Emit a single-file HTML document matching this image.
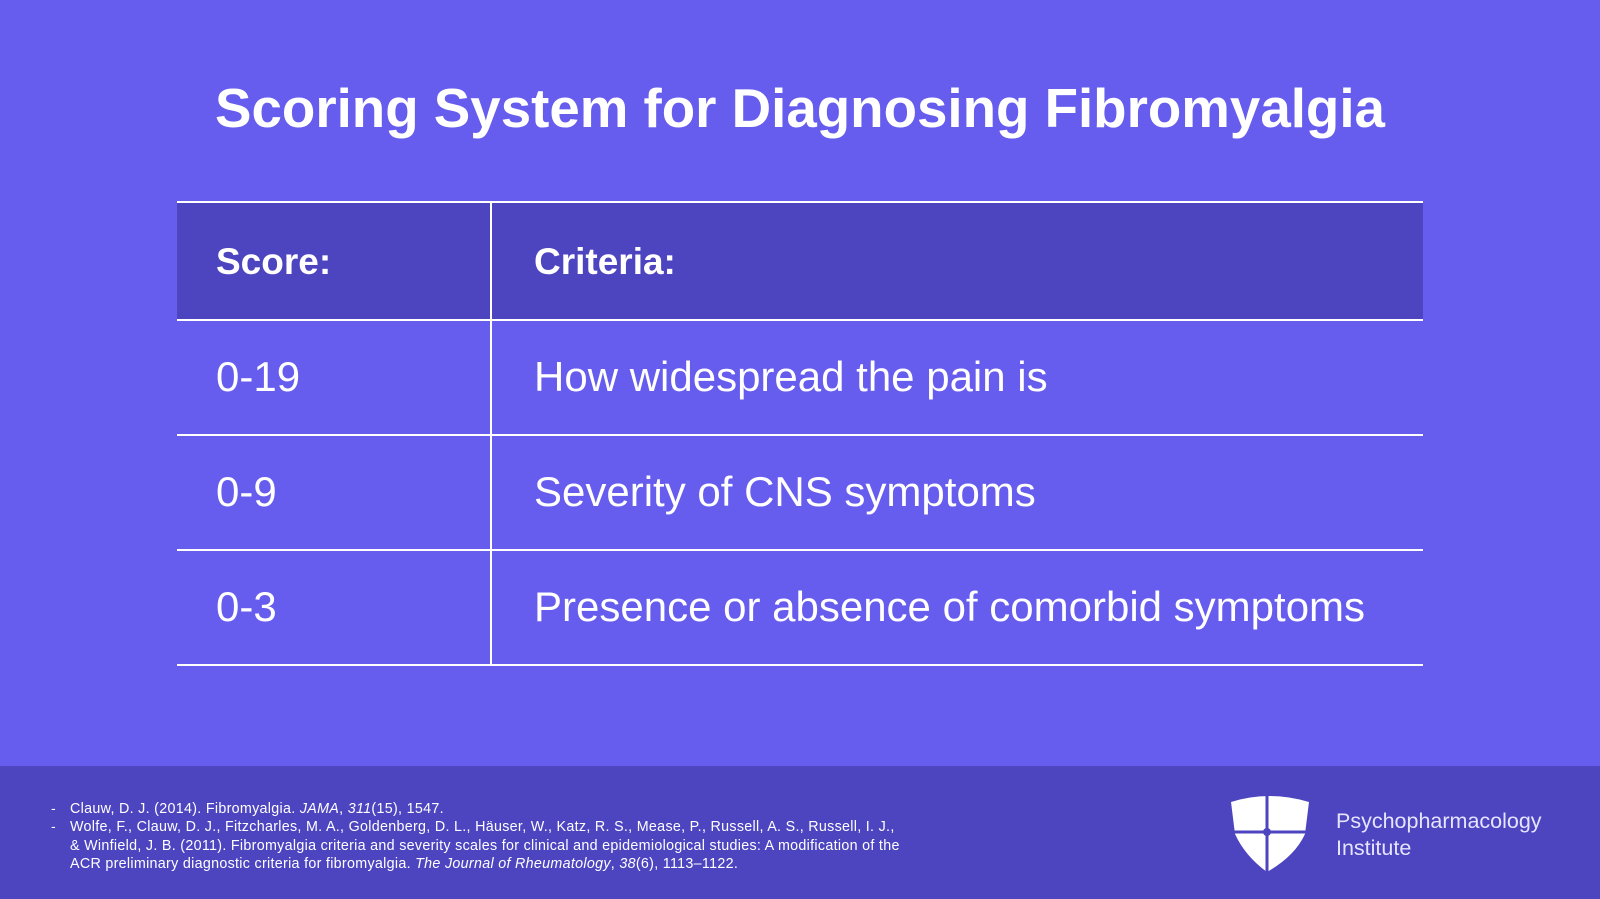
<!DOCTYPE html>
<html><head><style>
body{margin:0;width:1600px;height:899px;background:#665cee;position:relative;overflow:hidden;font-family:"Liberation Sans",sans-serif;color:#fff}
.t{position:absolute;left:0;width:1600px;top:76px;text-align:center;font-size:54.7px;font-weight:bold}
.h{position:absolute;left:177px;top:202px;width:1246px;height:118px;background:#4d44c0}
.l{position:absolute;background:#fff}
.x{position:absolute;font-size:42px}
.b{font-weight:bold;font-size:37px}
.f{position:absolute;left:0;top:766px;width:1600px;height:133px;background:#4d44c0}
.r{position:absolute;font-size:14.3px;line-height:18.3px;left:70px;top:800px;width:1000px;white-space:nowrap;letter-spacing:0.3px}
.r i{font-style:italic}
.d{position:absolute;left:51px;font-size:14px}
.lg{position:absolute;left:1336px;top:808px;font-size:21.5px;line-height:27px;color:#e6e4ff}
</style></head><body>
<div class="t">Scoring System for Diagnosing Fibromyalgia</div>
<div class="h"></div>
<div class="l" style="left:177px;top:201px;width:1246px;height:2px"></div>
<div class="l" style="left:177px;top:319px;width:1246px;height:2px"></div>
<div class="l" style="left:177px;top:434px;width:1246px;height:2px"></div>
<div class="l" style="left:177px;top:549px;width:1246px;height:2px"></div>
<div class="l" style="left:177px;top:664px;width:1246px;height:2px"></div>
<div class="l" style="left:490px;top:201px;width:2px;height:465px"></div>
<div class="x b" style="left:216px;top:241px">Score:</div>
<div class="x b" style="left:534px;top:241px">Criteria:</div>
<div class="x" style="left:216px;top:353px">0-19</div>
<div class="x" style="left:534px;top:353px">How widespread the pain is</div>
<div class="x" style="left:216px;top:468px">0-9</div>
<div class="x" style="left:534px;top:468px">Severity of CNS symptoms</div>
<div class="x" style="left:216px;top:583px">0-3</div>
<div class="x" style="left:534px;top:583px">Presence or absence of comorbid symptoms</div>
<div class="f"></div>
<div class="d" style="top:800px">-</div>
<div class="d" style="top:818px">-</div>
<div class="r">Clauw, D. J. (2014). Fibromyalgia. <i>JAMA</i>, <i>311</i>(15), 1547.<br>Wolfe, F., Clauw, D. J., Fitzcharles, M. A., Goldenberg, D. L., Häuser, W., Katz, R. S., Mease, P., Russell, A. S., Russell, I. J.,<br>&amp; Winfield, J. B. (2011). Fibromyalgia criteria and severity scales for clinical and epidemiological studies: A modification of the<br>ACR preliminary diagnostic criteria for fibromyalgia. <i>The Journal of Rheumatology</i>, <i>38</i>(6), 1113–1122.</div>
<svg style="position:absolute;left:1229px;top:794px" width="82" height="78" viewBox="0 0 82 78">
<path d="M2 8 Q40 -4 80 8 L76 40 Q66 62 38 78 Q16 62 6 40 Z" fill="#fff"/>
<path d="M38 0 L38 78 M0 38 L82 38" stroke="#4d44c0" stroke-width="3"/>
<circle cx="38" cy="38" r="4" fill="#4d44c0"/>
</svg>
<div class="lg">Psychopharmacology<br>Institute</div>
</body></html>
